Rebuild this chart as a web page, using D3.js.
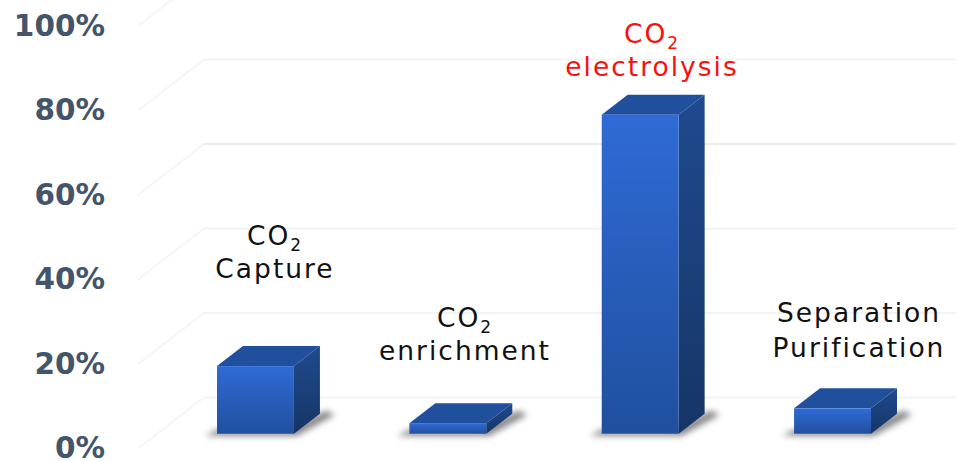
<!DOCTYPE html>
<html>
<head>
<meta charset="utf-8">
<script src="https://cdn.jsdelivr.net/npm/d3@7/dist/d3.min.js"></script>
<style>
html,body{margin:0;padding:0;background:#fff;overflow:hidden}
svg{display:block}
.tick text{font-family:"DejaVu Sans",sans-serif;font-weight:700;font-size:29.5px;fill:#44546a}
.cat{font-family:"DejaVu Sans",sans-serif;font-size:26.5px;letter-spacing:2px}
</style>
</head>
<body>
<svg id="chart" width="956" height="461"></svg>
<script>
// Stage share by process step
const categories = ["CO2 Capture", "CO2 enrichment", "CO2 electrolysis", "Separation Purification"];
const shares = [16, 2.5, 75.5, 6];
const tickValues = [0, 20, 40, 60, 80, 100];
const labelLines = [["CO2", "Capture"], ["CO2", "enrichment"], ["CO2", "electrolysis"], ["Separation", "Purification"]];
const labelColors = ["#111", "#111", "#fa0f0f", "#111"];

// Layout of the pseudo-3D box
const W = 956, H = 461;
const wallDx = 66, wallDy = -51;      // floor depth of the plot
const barDx = 26, barDy = -20;        // depth of each box
const baseInset = -14.8;              // boxes stand part way back on the floor
const labelX = [275, 465, 652, 859];
const labelY = [245, 327, 43, 322];
const lineGap = [33, 33, 33, 35];

const svg = d3.select("#chart");
const y = d3.scaleLinear().domain([0, 100]).range([448.5, 26]);
const x = d3.scaleBand().domain(categories).range([217, 871]).paddingInner(0.6).paddingOuter(0);
const pts = a => a.map(p => p.join(",")).join(" ");

const defs = svg.append("defs");
const grad = (id, top, bottom) => {
  const g = defs.append("linearGradient").attr("id", id).attr("x1", 0).attr("y1", 0).attr("x2", 0).attr("y2", 1);
  g.append("stop").attr("offset", 0).attr("stop-color", top);
  g.append("stop").attr("offset", 1).attr("stop-color", bottom);
};
grad("front", "#2f6bd6", "#204f9e");
grad("side", "#1f4a8e", "#163566");
defs.append("filter").attr("id", "soft").attr("x", "-30%").attr("y", "-60%").attr("width", "160%").attr("height", "220%")
  .append("feGaussianBlur").attr("stdDeviation", 3.2);

// Floor and wall gridlines
const grid = svg.append("g");
grid.selectAll("polyline.diag").data(tickValues).join("polyline")
  .attr("class", "diag")
  .attr("fill", "none").attr("stroke", "#f4f4f6").attr("stroke-width", 1.6)
  .attr("points", d => pts([[138, y(d)], [138 + wallDx, y(d) + wallDy]]));
grid.selectAll("line.wall").data(tickValues).join("line")
  .attr("class", "wall")
  .attr("x1", 138 + wallDx).attr("x2", W)
  .attr("y1", d => y(d) + wallDy).attr("y2", d => y(d) + wallDy)
  .attr("stroke", d => d === 60 ? "#ebebee" : "#f3f3f6").attr("stroke-width", 2);

// Value axis
const axis = svg.append("g").attr("transform", "translate(105,0)")
  .call(d3.axisLeft(y).tickValues(tickValues).tickSize(0).tickPadding(0).tickFormat(d => d + "%"));
axis.select(".domain").remove();

// Boxes
const base = y(0) + baseInset;
const hOf = v => y(0) - y(v);
const bars = svg.append("g").selectAll("g").data(categories.map((c, i) => ({c, v: shares[i]}))).join("g");

bars.append("polygon")
  .attr("fill", "#55555a").attr("opacity", 0.72).attr("filter", "url(#soft)")
  .attr("points", d => {
    const l = x(d.c), r = l + x.bandwidth();
    return pts([[l - 12, base + 2], [r + 3, base + 2], [r + barDx + 15, base + barDy + 1], [r + barDx + 6, base + barDy - 3], [r - 8, base - 4], [l, base - 4]]);
  });
bars.append("polygon").attr("fill", "#204f9e")
  .attr("points", d => {
    const l = x(d.c), r = l + x.bandwidth(), t = base - hOf(d.v);
    return pts([[l, t], [r, t], [r + barDx, t + barDy], [l + barDx, t + barDy]]);
  });
bars.append("polygon").attr("fill", "url(#side)")
  .attr("points", d => {
    const r = x(d.c) + x.bandwidth(), t = base - hOf(d.v);
    return pts([[r, t], [r + barDx, t + barDy], [r + barDx, base + barDy], [r, base]]);
  });
bars.append("rect").attr("fill", "url(#front)")
  .attr("x", d => x(d.c)).attr("width", x.bandwidth())
  .attr("y", d => base - hOf(d.v)).attr("height", d => hOf(d.v));

// Category captions; the digit of CO2 is set as a subscript
const captions = svg.append("g");
labelLines.forEach((lines, i) => {
  lines.forEach((line, j) => {
    const t = captions.append("text").attr("class", "cat")
      .attr("x", labelX[i]).attr("y", labelY[i] + j * lineGap[i])
      .attr("text-anchor", "middle").attr("fill", labelColors[i]);
    if (line === "CO2") {
      t.append("tspan").text("CO");
      t.append("tspan").attr("dy", 6).attr("font-size", 17).text("2");
    } else {
      t.text(line);
    }
  });
});
</script>
</body>
</html>
